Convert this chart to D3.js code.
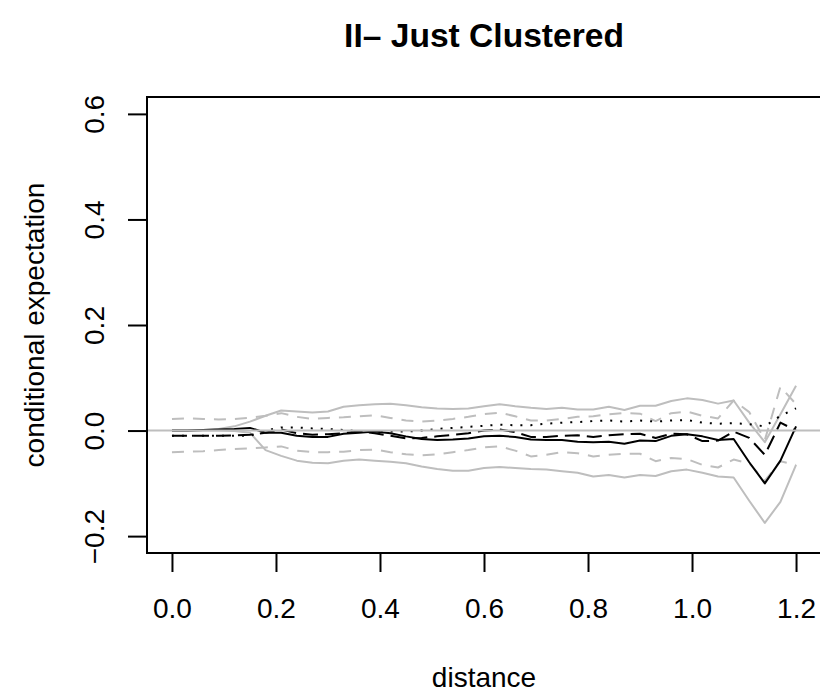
<!DOCTYPE html>
<html>
<head>
<meta charset="utf-8">
<script src="https://cdn.jsdelivr.net/npm/d3@7"></script>
<style>
  body { margin: 0; background: #fff; }
  svg text { font-family: "Liberation Sans", Arial, Helvetica, sans-serif; }
</style>
</head>
<body>
<div id="chart"></div>
<script>
// distances where the curves are evaluated
var distance = [0.00, 0.03, 0.06, 0.09, 0.12, 0.15, 0.18, 0.21, 0.24, 0.27,
                0.30, 0.33, 0.36, 0.39, 0.42, 0.45, 0.48, 0.51, 0.54, 0.57,
                0.60, 0.63, 0.66, 0.69, 0.72, 0.75, 0.78, 0.81, 0.84, 0.87,
                0.90, 0.93, 0.96, 0.99, 1.02, 1.05, 1.08, 1.11, 1.14, 1.17, 1.20];

// black lines
var estSolid = [0.000, 0.000, 0.001, 0.002, 0.003, 0.005, -0.004, -0.004, -0.010, -0.012,
                -0.012, -0.006, -0.004, -0.002, -0.005, -0.011, -0.016, -0.018, -0.017, -0.015,
                -0.011, -0.010, -0.012, -0.017, -0.018, -0.018, -0.021, -0.022, -0.021, -0.025,
                -0.019, -0.020, -0.010, -0.007, -0.011, -0.018, -0.016, -0.060, -0.100, -0.057, 0.008];
var estDashed = [-0.010, -0.010, -0.010, -0.010, -0.009, -0.008, -0.004, 0.002, -0.005, -0.008,
                 -0.007, -0.005, -0.002, -0.005, -0.010, -0.015, -0.014, -0.011, -0.008, -0.005,
                 0.000, 0.002, -0.003, -0.012, -0.012, -0.010, -0.009, -0.012, -0.009, -0.007,
                 -0.006, -0.014, -0.006, -0.007, -0.020, -0.019, -0.002, -0.014, -0.046, 0.015, 0.000];
var estDotted = [-0.010, -0.010, -0.010, -0.010, -0.010, -0.010, 0.000, 0.006, 0.006, 0.004,
                 0.003, 0.001, -0.001, -0.002, -0.002, -0.002, 0.000, 0.003, 0.005, 0.007,
                 0.009, 0.011, 0.010, 0.010, 0.013, 0.015, 0.016, 0.018, 0.019, 0.017,
                 0.019, 0.017, 0.019, 0.020, 0.015, 0.013, 0.014, 0.012, 0.008, 0.028, 0.042];

// grey envelopes
var upperSolid = [0.000, 0.000, 0.001, 0.003, 0.008, 0.017, 0.028, 0.038, 0.036, 0.034,
                  0.036, 0.045, 0.048, 0.050, 0.051, 0.048, 0.044, 0.042, 0.041, 0.042,
                  0.046, 0.050, 0.046, 0.043, 0.041, 0.043, 0.040, 0.040, 0.045, 0.039,
                  0.047, 0.047, 0.056, 0.061, 0.058, 0.051, 0.057, 0.015, -0.022, 0.031, 0.085];
var lowerSolid = [0.000, 0.000, 0.000, 0.000, -0.001, -0.004, -0.037, -0.048, -0.057, -0.061,
                  -0.062, -0.057, -0.055, -0.057, -0.059, -0.062, -0.068, -0.073, -0.076, -0.076,
                  -0.071, -0.069, -0.071, -0.073, -0.074, -0.077, -0.080, -0.087, -0.084, -0.089,
                  -0.084, -0.086, -0.077, -0.074, -0.080, -0.087, -0.089, -0.133, -0.175, -0.135, -0.065];
var upperDashed = [0.022, 0.023, 0.022, 0.021, 0.022, 0.024, 0.028, 0.033, 0.026, 0.022,
                   0.024, 0.025, 0.027, 0.029, 0.024, 0.019, 0.017, 0.019, 0.022, 0.026,
                   0.031, 0.034, 0.027, 0.019, 0.019, 0.022, 0.026, 0.027, 0.031, 0.033,
                   0.032, 0.018, 0.033, 0.036, 0.028, 0.023, 0.057, 0.035, -0.018, 0.083, 0.050];
var lowerDashed = [-0.041, -0.040, -0.039, -0.037, -0.035, -0.034, -0.032, -0.030, -0.038, -0.041,
                   -0.041, -0.040, -0.037, -0.036, -0.041, -0.045, -0.047, -0.045, -0.041, -0.037,
                   -0.032, -0.030, -0.038, -0.049, -0.046, -0.041, -0.043, -0.049, -0.046, -0.044,
                   -0.044, -0.058, -0.052, -0.054, -0.065, -0.070, -0.055, -0.062, -0.095, -0.058, -0.065];

var xTicks = [0, 0.2, 0.4, 0.6, 0.8, 1.0, 1.2];
var yTicks = [-0.2, 0, 0.2, 0.4, 0.6];

var width = 820, height = 693;
var box = {left: 147, right: 821, top: 97, bottom: 553};

var svg = d3.select("#chart").append("svg")
    .attr("width", width)
    .attr("height", height);

svg.append("rect").attr("width", width).attr("height", height).attr("fill", "#fff");

// R style: 4% padding round the data range
var x = d3.scaleLinear().domain([-0.048, 1.248]).range([box.left, box.right]);
var y = d3.scaleLinear().domain([-0.232, 0.632]).range([box.bottom, box.top]);

var fmt = d3.format(".1f");

// x axis
var gx = svg.append("g")
    .attr("transform", "translate(0," + box.bottom + ")")
    .call(d3.axisBottom(x).tickValues(xTicks).tickFormat(fmt).tickSize(19).tickSizeOuter(0));
gx.select(".domain").remove();
gx.selectAll(".tick line").attr("stroke", "#000").attr("stroke-width", 2);
gx.selectAll(".tick text")
    .attr("y", 0).attr("dy", null)
    .attr("transform", "translate(0,65)")
    .attr("fill", "#000")
    .style("font-size", "28px");

// y axis, labels turned like R's las = 0
var gy = svg.append("g")
    .attr("transform", "translate(" + box.left + ",0)")
    .call(d3.axisLeft(y).tickValues(yTicks).tickFormat(fmt).tickSize(19).tickSizeOuter(0));
gy.select(".domain").remove();
gy.selectAll(".tick line").attr("stroke", "#000").attr("stroke-width", 2);
gy.selectAll(".tick text")
    .attr("x", 0).attr("dy", null)
    .attr("transform", "translate(-43,0) rotate(-90)")
    .attr("text-anchor", "middle")
    .attr("fill", "#000")
    .style("font-size", "28px");

var line = d3.line()
    .x(function(d, i) { return x(distance[i]); })
    .y(function(d) { return y(d); });

var grey = "#bebebe";
var series = [
    {values: upperSolid, color: grey, dash: null},
    {values: lowerSolid, color: grey, dash: null},
    {values: upperDashed, color: grey, dash: "12,9"},
    {values: lowerDashed, color: grey, dash: "12,9"},
    {values: estSolid, color: "#000", dash: null},
    {values: estDashed, color: "#000", dash: "15,7"},
    {values: estDotted, color: "#000", dash: "2,8"}
];

var clip = svg.append("clipPath").attr("id", "plotclip")
    .append("rect")
    .attr("x", box.left).attr("y", box.top)
    .attr("width", box.right - box.left).attr("height", box.bottom - box.top);

var plot = svg.append("g").attr("clip-path", "url(#plotclip)");

plot.selectAll("path.series")
    .data(series)
    .enter()
    .append("path")
    .attr("class", "series")
    .attr("d", function(d) { return line(d.values); })
    .attr("fill", "none")
    .attr("stroke", function(d) { return d.color; })
    .attr("stroke-width", 2)
    .attr("stroke-dasharray", function(d) { return d.dash; })
    .attr("stroke-linejoin", "round");

// zero line
plot.append("line")
    .attr("x1", box.left).attr("x2", box.right)
    .attr("y1", y(0)).attr("y2", y(0))
    .attr("stroke", grey)
    .attr("stroke-width", 2);

// plot box
svg.append("rect")
    .attr("x", box.left).attr("y", box.top)
    .attr("width", box.right - box.left).attr("height", box.bottom - box.top)
    .attr("fill", "none")
    .attr("stroke", "#000")
    .attr("stroke-width", 2);

// titles
svg.append("text")
    .attr("x", (box.left + box.right) / 2)
    .attr("y", 47)
    .attr("text-anchor", "middle")
    .style("font-size", "33.6px")
    .style("font-weight", "bold")
    .text("II\u2013 Just Clustered");

svg.append("text")
    .attr("x", (box.left + box.right) / 2)
    .attr("y", 687)
    .attr("text-anchor", "middle")
    .style("font-size", "28px")
    .text("distance");

svg.append("text")
    .attr("transform", "translate(44," + ((box.top + box.bottom) / 2) + ") rotate(-90)")
    .attr("text-anchor", "middle")
    .style("font-size", "28px")
    .text("conditional expectation");
</script>
</body>
</html>
